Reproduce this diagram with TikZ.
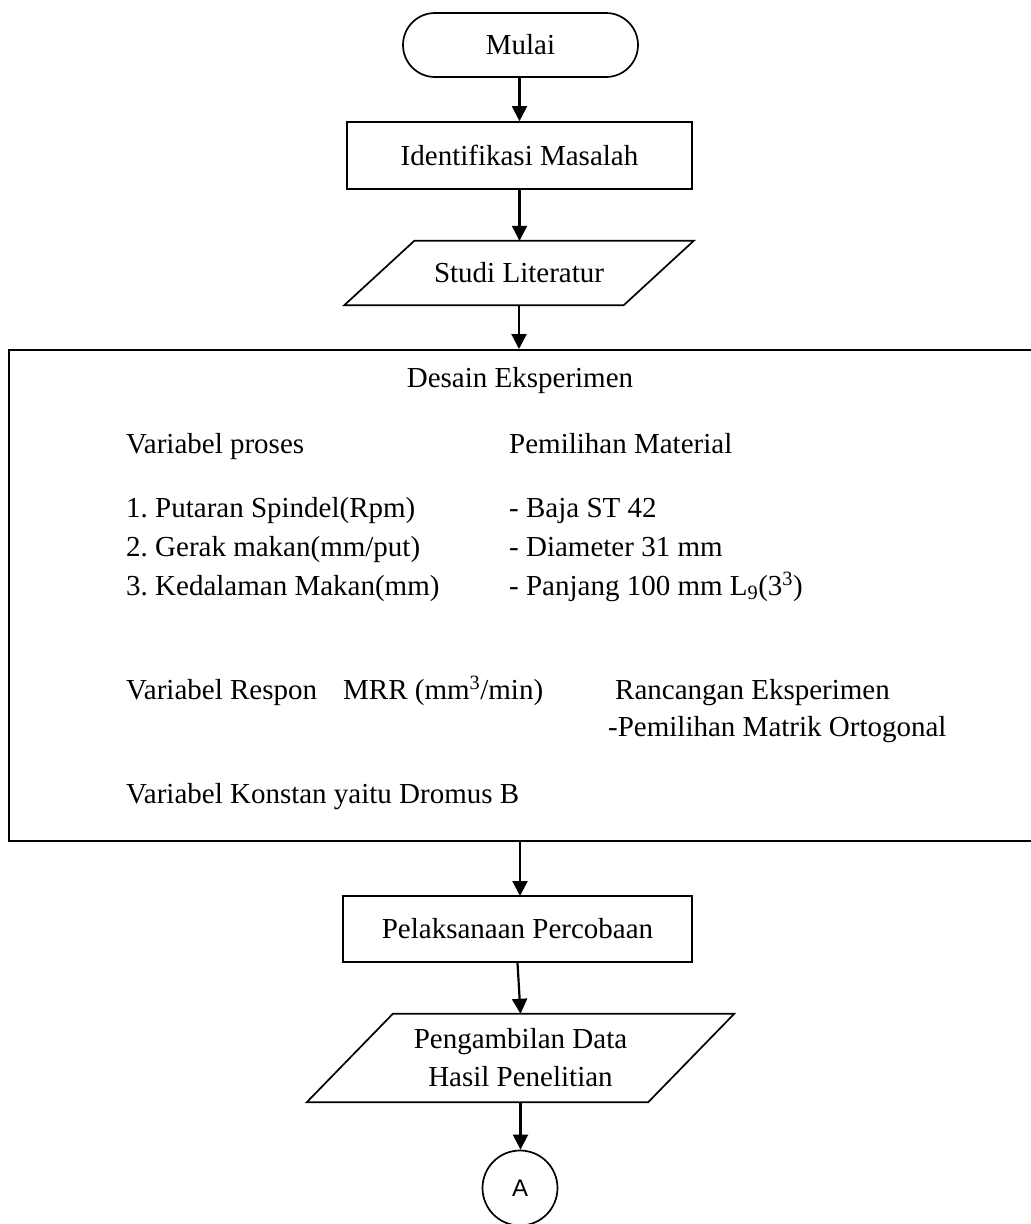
\documentclass[tikz,border=0pt]{standalone}
\usepackage{fontspec}
\setmainfont{Liberation Serif}
\newfontfamily\arialfont{Liberation Sans}
\usetikzlibrary{arrows.meta}
\frenchspacing
\begin{document}
\begin{tikzpicture}[x=1pt,y=-1pt,
  txt/.style={font=\fontsize{29}{38}\selectfont, inner sep=0pt},
  shapeline/.style={line width=1.7pt, line join=miter},
  procbox/.style={txt, draw, shapeline},
  term/.style={procbox, rounded corners=32pt},
  para/.style={txt},
  arr/.style={line width=2.2pt, -{Triangle[width=15pt,length=15pt]}},
  lbl/.style={txt, anchor=base west}]
\useasboundingbox (0,0) rectangle (1031,1224);
\clip (0,0) rectangle (1031,1224);

% Start
\node[term, minimum width=235pt, minimum height=64pt] (mulai) at (520.5,45) {Mulai};
% Identifikasi
\node[procbox, minimum width=345pt, minimum height=67pt] (ident) at (519.5,155.5) {Identifikasi Masalah};
% Studi Literatur (parallelogram)
\node[para, minimum width=279pt, minimum height=64pt] (studi) at (519,273) {Studi Literatur};
\draw[shapeline] ([xshift=-35pt]studi.south west) -- ([xshift=-35pt]studi.south east)
  -- ([xshift=35pt]studi.north east) -- ([xshift=35pt]studi.north west) -- cycle;

% Big box
\node[draw, line width=2.4pt, minimum width=1045pt, minimum height=491pt, anchor=north west, inner sep=0pt] (desain) at (8,349) {};

\node[txt, anchor=base] (dtitle) at (520,387) {Desain Eksperimen};
\node[lbl] (vp) at (126,453) {Variabel proses};
\node[lbl] (pm) at (509,453) {Pemilihan Material};
\node[lbl] (v1) at (126,517) {1. Putaran Spindel(Rpm)};
\node[lbl] (v2) at (126,556) {2. Gerak makan(mm/put)};
\node[lbl] (v3) at (126,595) {3. Kedalaman Makan(mm)};
\node[lbl] (m1) at (509,517) {- Baja ST 42};
\node[lbl] (m2) at (509,556) {- Diameter 31 mm};
\node[lbl] (m3) at (509,595) {- Panjang 100 mm L\textsubscript{9}(3\textsuperscript{3})};
\node[lbl] (vr) at (126,699) {Variabel Respon};
\node[lbl] (mrr) at (343,699) {MRR (mm\textsuperscript{3}/min)};
\node[lbl] (re) at (615,699) {Rancangan Eksperimen};
\node[lbl] (mo) at (608,736) {-Pemilihan Matrik Ortogonal};
\node[lbl] (vk) at (126,803) {Variabel Konstan yaitu Dromus B};

% Pelaksanaan
\node[procbox, minimum width=349pt, minimum height=66pt] (pelak) at (517.5,929) {Pelaksanaan Percobaan};
% Pengambilan (parallelogram)
\node[para, minimum width=341pt, minimum height=88pt, align=center] (ambil) at (520.5,1058) {Pengambilan Data\\Hasil Penelitian};
\draw[shapeline] ([xshift=-43pt]ambil.south west) -- ([xshift=-43pt]ambil.south east)
  -- ([xshift=43pt]ambil.north east) -- ([xshift=43pt]ambil.north west) -- cycle;
% Connector A
\node[circle, draw, shapeline, minimum size=75pt, inner sep=0pt, font=\arialfont\fontsize{24}{28}\selectfont] (conA) at (520,1188) {A};

% Arrows
\draw[arr] (ident.north |- mulai.south) -- (ident.north);
\draw[arr] (ident.south) -- (ident.south |- studi.north);
\draw[arr] (studi.south) -- (studi.south |- desain.north);
\draw[arr] (520,840) coordinate (dbot) -- (520,896) coordinate (ptop);
\draw[arr] (pelak.south) -- (ambil.north);
\draw[arr] (ambil.south) -- (ambil.south |- conA.north);
\end{tikzpicture}
\end{document}
